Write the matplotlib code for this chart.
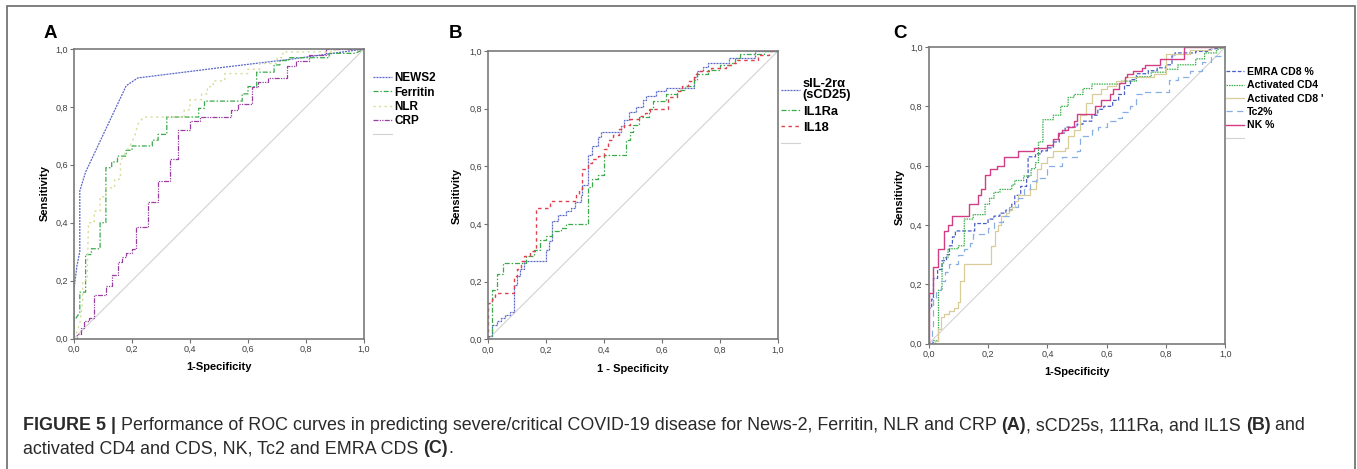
import matplotlib.pyplot as plt
from matplotlib.patches import Rectangle

plt.rcParams['font.family'] = ['Liberation Sans', 'DejaVu Sans']

W, H = 1357, 469

# ---- panel A: NEWS2, Ferritin, NLR, CRP ----
news2_x = [0.0, 0.0, 0.01, 0.02, 0.02, 0.04, 0.18, 0.22, 0.50, 0.75, 1.0]
news2_y = [0.0, 0.17, 0.25, 0.30, 0.51, 0.575, 0.873, 0.90, 0.935, 0.965, 1.0]

ferritin_x = [0.0, 0.0, 0.02, 0.02, 0.04, 0.04, 0.06, 0.06, 0.09, 0.09, 0.11, 0.11, 0.13, 0.13,
              0.15, 0.15, 0.18, 0.18, 0.20, 0.20, 0.27, 0.27, 0.29, 0.29, 0.32, 0.32, 0.43, 0.43,
              0.45, 0.45, 0.58, 0.58, 0.60, 0.60, 0.63, 0.63, 0.69, 0.69, 0.71, 0.71, 0.74, 0.74,
              0.88, 0.88, 0.97, 1.0]
ferritin_y = [0.0, 0.06, 0.09, 0.16, 0.16, 0.29, 0.29, 0.31, 0.31, 0.40, 0.40, 0.59, 0.59, 0.61,
              0.61, 0.63, 0.63, 0.65, 0.65, 0.665, 0.665, 0.685, 0.685, 0.705, 0.705, 0.765, 0.765, 0.795,
              0.795, 0.82, 0.82, 0.845, 0.845, 0.87, 0.87, 0.92, 0.92, 0.945, 0.945, 0.96, 0.96, 0.97,
              0.97, 0.985, 0.985, 1.0]

nlr_x = [0.0, 0.02, 0.03, 0.03, 0.045, 0.05, 0.07, 0.07, 0.09, 0.09, 0.11, 0.11, 0.14, 0.14,
         0.16, 0.16, 0.17, 0.19, 0.21, 0.22, 0.24, 0.38, 0.38, 0.40, 0.40, 0.44, 0.44, 0.46, 0.46,
         0.48, 0.48, 0.52, 0.52, 0.60, 0.60, 0.64, 0.64, 0.70, 0.70, 0.72, 0.72, 0.90, 0.90, 1.0]
nlr_y = [0.0, 0.05, 0.13, 0.20, 0.20, 0.40, 0.40, 0.44, 0.44, 0.49, 0.49, 0.52, 0.52, 0.55,
         0.55, 0.61, 0.63, 0.66, 0.70, 0.74, 0.765, 0.765, 0.79, 0.79, 0.825, 0.825, 0.845, 0.845, 0.87,
         0.87, 0.89, 0.89, 0.915, 0.915, 0.93, 0.93, 0.95, 0.95, 0.97, 0.97, 0.99, 0.99, 1.0, 1.0]

crp_x = [0.0, 0.01, 0.01, 0.025, 0.025, 0.035, 0.035, 0.05, 0.05, 0.07, 0.07, 0.11, 0.11, 0.13,
         0.13, 0.15, 0.15, 0.165, 0.165, 0.18, 0.18, 0.20, 0.20, 0.215, 0.215, 0.255, 0.255, 0.29,
         0.29, 0.33, 0.33, 0.36, 0.36, 0.40, 0.40, 0.435, 0.435, 0.54, 0.54, 0.565, 0.565, 0.615,
         0.615, 0.635, 0.635, 0.67, 0.67, 0.735, 0.735, 0.765, 0.765, 0.81, 0.81, 0.87, 0.87, 1.0]
crp_y = [0.0, 0.0, 0.015, 0.015, 0.035, 0.035, 0.06, 0.06, 0.07, 0.07, 0.15, 0.15, 0.18, 0.18,
         0.22, 0.22, 0.265, 0.265, 0.28, 0.28, 0.295, 0.295, 0.31, 0.31, 0.385, 0.385, 0.47, 0.47,
         0.545, 0.545, 0.62, 0.62, 0.72, 0.72, 0.75, 0.75, 0.765, 0.765, 0.79, 0.79, 0.81, 0.81,
         0.87, 0.87, 0.885, 0.885, 0.90, 0.90, 0.94, 0.94, 0.96, 0.96, 0.98, 0.98, 1.0, 1.0]

# ---- panel B: sIL-2ra, IL1Ra, IL18 ----
il2_x = [0.0, 0.0, 0.015, 0.015, 0.03, 0.03, 0.045, 0.045, 0.06, 0.06, 0.075, 0.075, 0.09, 0.09,
         0.10, 0.10, 0.11, 0.11, 0.125, 0.125, 0.20, 0.20, 0.21, 0.21, 0.22, 0.22, 0.24, 0.24,
         0.27, 0.27, 0.285, 0.285, 0.30, 0.30, 0.32, 0.32, 0.325, 0.325, 0.345, 0.345, 0.36, 0.36,
         0.38, 0.38, 0.39, 0.39, 0.46, 0.46, 0.47, 0.47, 0.485, 0.485, 0.51, 0.51, 0.535, 0.535,
         0.545, 0.545, 0.58, 0.58, 0.615, 0.615, 0.71, 0.71, 0.72, 0.72, 0.74, 0.74, 0.76, 0.76,
         0.83, 0.83, 0.92, 0.92, 1.0]
il2_y = [0.0, 0.01, 0.01, 0.05, 0.05, 0.065, 0.065, 0.075, 0.075, 0.085, 0.085, 0.095, 0.095, 0.19,
         0.19, 0.22, 0.22, 0.245, 0.245, 0.27, 0.27, 0.31, 0.31, 0.34, 0.34, 0.41, 0.41, 0.43,
         0.43, 0.445, 0.445, 0.455, 0.455, 0.475, 0.475, 0.50, 0.50, 0.535, 0.535, 0.64, 0.64, 0.67,
         0.67, 0.70, 0.70, 0.72, 0.72, 0.74, 0.74, 0.76, 0.76, 0.79, 0.79, 0.805, 0.805, 0.83,
         0.83, 0.845, 0.845, 0.86, 0.86, 0.87, 0.87, 0.91, 0.91, 0.93, 0.93, 0.945, 0.945, 0.96,
         0.96, 0.975, 0.975, 1.0, 1.0]

il1ra_x = [0.0, 0.015, 0.015, 0.03, 0.03, 0.05, 0.05, 0.13, 0.13, 0.16, 0.16, 0.18, 0.18, 0.20,
           0.20, 0.22, 0.22, 0.25, 0.25, 0.27, 0.27, 0.345, 0.345, 0.36, 0.36, 0.38, 0.38, 0.40,
           0.40, 0.475, 0.475, 0.49, 0.49, 0.50, 0.50, 0.52, 0.52, 0.555, 0.555, 0.57, 0.57, 0.615,
           0.615, 0.65, 0.65, 0.68, 0.68, 0.71, 0.71, 0.72, 0.72, 0.76, 0.76, 0.80, 0.80, 0.84,
           0.84, 0.85, 0.85, 0.87, 0.87, 0.95, 0.95, 1.0]
il1ra_y = [0.0, 0.0, 0.17, 0.17, 0.225, 0.225, 0.265, 0.265, 0.29, 0.29, 0.31, 0.31, 0.345, 0.345,
           0.36, 0.36, 0.375, 0.375, 0.385, 0.385, 0.40, 0.40, 0.53, 0.53, 0.555, 0.555, 0.57, 0.57,
           0.64, 0.64, 0.69, 0.69, 0.72, 0.72, 0.745, 0.745, 0.77, 0.77, 0.80, 0.80, 0.825, 0.825,
           0.85, 0.85, 0.865, 0.865, 0.88, 0.88, 0.90, 0.90, 0.92, 0.92, 0.935, 0.935, 0.95, 0.95,
           0.96, 0.96, 0.975, 0.975, 0.99, 0.99, 1.0, 1.0]

il18_x = [0.0, 0.0, 0.015, 0.015, 0.025, 0.025, 0.09, 0.09, 0.10, 0.10, 0.115, 0.115, 0.125, 0.125,
          0.145, 0.145, 0.165, 0.165, 0.215, 0.215, 0.305, 0.305, 0.315, 0.315, 0.325, 0.325,
          0.345, 0.345, 0.36, 0.36, 0.38, 0.38, 0.40, 0.40, 0.415, 0.415, 0.43, 0.43, 0.45, 0.45,
          0.47, 0.47, 0.49, 0.49, 0.52, 0.52, 0.54, 0.54, 0.56, 0.56, 0.62, 0.62, 0.65, 0.65,
          0.67, 0.67, 0.69, 0.69, 0.71, 0.71, 0.72, 0.72, 0.77, 0.77, 0.82, 0.82, 0.84, 0.84,
          0.86, 0.86, 0.93, 0.93, 0.97, 0.97, 1.0]
il18_y = [0.0, 0.125, 0.125, 0.14, 0.14, 0.16, 0.16, 0.22, 0.22, 0.245, 0.245, 0.27, 0.27, 0.29,
          0.29, 0.305, 0.305, 0.455, 0.455, 0.48, 0.48, 0.50, 0.50, 0.52, 0.52, 0.59,
          0.59, 0.61, 0.61, 0.625, 0.625, 0.635, 0.635, 0.66, 0.66, 0.69, 0.69, 0.71, 0.71, 0.73,
          0.73, 0.745, 0.745, 0.765, 0.765, 0.775, 0.775, 0.785, 0.785, 0.80, 0.80, 0.84, 0.84, 0.86,
          0.86, 0.88, 0.88, 0.895, 0.895, 0.92, 0.92, 0.93, 0.93, 0.94, 0.94, 0.95, 0.95, 0.96,
          0.96, 0.97, 0.97, 0.985, 0.985, 1.0, 1.0]

# ---- panel C: lymphocyte subsets ----
emra_x = [0.0, 0.0, 0.01, 0.01, 0.016, 0.016, 0.03, 0.03, 0.045, 0.045, 0.06, 0.06, 0.07, 0.07,
          0.08, 0.08, 0.09, 0.09, 0.155, 0.155, 0.20, 0.20, 0.22, 0.22, 0.24, 0.24, 0.26, 0.26,
          0.28, 0.28, 0.29, 0.29, 0.31, 0.31, 0.33, 0.33, 0.335, 0.335, 0.36, 0.36, 0.38, 0.38,
          0.40, 0.40, 0.42, 0.42, 0.44, 0.44, 0.46, 0.46, 0.50, 0.50, 0.52, 0.52, 0.55, 0.55,
          0.57, 0.57, 0.59, 0.59, 0.62, 0.62, 0.64, 0.64, 0.66, 0.66, 0.68, 0.68, 0.70, 0.70,
          0.74, 0.74, 0.77, 0.77, 0.80, 0.80, 0.82, 0.82, 0.83, 0.83, 0.90, 0.90, 0.94, 0.94, 1.0]
emra_y = [0.0, 0.12, 0.12, 0.15, 0.15, 0.22, 0.22, 0.25, 0.25, 0.28, 0.28, 0.30, 0.30, 0.33,
          0.33, 0.36, 0.36, 0.38, 0.38, 0.405, 0.405, 0.42, 0.42, 0.43, 0.43, 0.44, 0.44, 0.45,
          0.45, 0.47, 0.47, 0.50, 0.50, 0.53, 0.53, 0.56, 0.56, 0.63, 0.63, 0.64, 0.64, 0.65,
          0.65, 0.66, 0.66, 0.68, 0.68, 0.71, 0.71, 0.73, 0.73, 0.74, 0.74, 0.75, 0.75, 0.77,
          0.77, 0.79, 0.79, 0.80, 0.80, 0.82, 0.82, 0.84, 0.84, 0.87, 0.87, 0.89, 0.89, 0.91,
          0.91, 0.92, 0.92, 0.93, 0.93, 0.94, 0.94, 0.97, 0.97, 0.98, 0.98, 0.985, 0.985, 0.99, 1.0]

cd4_x = [0.0, 0.016, 0.016, 0.033, 0.033, 0.045, 0.045, 0.05, 0.05, 0.065, 0.065, 0.10, 0.10, 0.12,
         0.12, 0.15, 0.15, 0.19, 0.19, 0.205, 0.205, 0.22, 0.22, 0.24, 0.24, 0.28, 0.28, 0.29,
         0.29, 0.32, 0.32, 0.345, 0.345, 0.36, 0.36, 0.37, 0.37, 0.385, 0.385, 0.42, 0.42, 0.445,
         0.445, 0.47, 0.47, 0.49, 0.49, 0.52, 0.52, 0.55, 0.55, 0.65, 0.65, 0.70, 0.70, 0.75,
         0.75, 0.80, 0.80, 0.84, 0.84, 0.90, 0.90, 0.93, 0.93, 0.97, 0.97, 1.0]
cd4_y = [0.0, 0.0, 0.01, 0.01, 0.18, 0.18, 0.27, 0.27, 0.29, 0.29, 0.32, 0.32, 0.33, 0.33,
         0.42, 0.42, 0.435, 0.435, 0.47, 0.47, 0.49, 0.49, 0.51, 0.51, 0.52, 0.52, 0.535, 0.535,
         0.55, 0.55, 0.565, 0.565, 0.59, 0.59, 0.61, 0.61, 0.68, 0.68, 0.755, 0.755, 0.77, 0.77,
         0.80, 0.80, 0.83, 0.83, 0.84, 0.84, 0.86, 0.86, 0.875, 0.875, 0.885, 0.885, 0.90, 0.90,
         0.915, 0.915, 0.925, 0.925, 0.94, 0.94, 0.96, 0.96, 0.98, 0.98, 0.99, 1.0]

cd8_x = [0.0, 0.02, 0.02, 0.03, 0.03, 0.04, 0.04, 0.05, 0.05, 0.07, 0.07, 0.085, 0.085, 0.10,
         0.10, 0.105, 0.105, 0.12, 0.12, 0.21, 0.21, 0.225, 0.225, 0.235, 0.235, 0.245, 0.245, 0.26,
         0.26, 0.27, 0.27, 0.28, 0.28, 0.29, 0.29, 0.30, 0.30, 0.34, 0.34, 0.36, 0.36, 0.365,
         0.365, 0.38, 0.38, 0.40, 0.40, 0.42, 0.42, 0.46, 0.46, 0.47, 0.47, 0.49, 0.49, 0.51,
         0.51, 0.53, 0.53, 0.55, 0.55, 0.58, 0.58, 0.60, 0.60, 0.63, 0.63, 0.66, 0.66, 0.76,
         0.76, 0.80, 0.80, 0.88, 0.88, 0.95, 0.95, 1.0]
cd8_y = [0.0, 0.0, 0.01, 0.01, 0.05, 0.05, 0.09, 0.09, 0.10, 0.10, 0.11, 0.11, 0.12, 0.12,
         0.14, 0.14, 0.21, 0.21, 0.27, 0.27, 0.33, 0.33, 0.38, 0.38, 0.40, 0.40, 0.43, 0.43,
         0.44, 0.44, 0.45, 0.45, 0.46, 0.46, 0.48, 0.48, 0.50, 0.50, 0.52, 0.52, 0.545, 0.545,
         0.59, 0.59, 0.61, 0.61, 0.63, 0.63, 0.65, 0.65, 0.66, 0.66, 0.70, 0.70, 0.72, 0.72,
         0.77, 0.77, 0.81, 0.81, 0.84, 0.84, 0.86, 0.86, 0.87, 0.87, 0.885, 0.885, 0.90, 0.90,
         0.91, 0.91, 0.975, 0.975, 0.99, 0.99, 1.0, 1.0]

tc2_x = [0.0, 0.01, 0.01, 0.015, 0.015, 0.025, 0.025, 0.04, 0.04, 0.055, 0.055, 0.07, 0.07, 0.10,
         0.10, 0.12, 0.12, 0.14, 0.14, 0.15, 0.15, 0.20, 0.20, 0.22, 0.22, 0.25, 0.25, 0.27,
         0.27, 0.30, 0.30, 0.32, 0.32, 0.34, 0.34, 0.36, 0.36, 0.40, 0.40, 0.45, 0.45, 0.50,
         0.50, 0.51, 0.51, 0.55, 0.55, 0.57, 0.57, 0.60, 0.60, 0.63, 0.63, 0.65, 0.65, 0.68,
         0.68, 0.70, 0.70, 0.72, 0.72, 0.81, 0.81, 0.84, 0.84, 0.88, 0.88, 0.92, 0.92, 0.95,
         0.95, 1.0, 1.0]
tc2_y = [0.0, 0.0, 0.05, 0.05, 0.15, 0.15, 0.18, 0.18, 0.21, 0.21, 0.24, 0.24, 0.27, 0.27,
         0.30, 0.30, 0.32, 0.32, 0.34, 0.34, 0.37, 0.37, 0.39, 0.39, 0.41, 0.41, 0.43, 0.43,
         0.46, 0.46, 0.49, 0.49, 0.52, 0.52, 0.55, 0.55, 0.56, 0.56, 0.60, 0.60, 0.63, 0.63,
         0.65, 0.65, 0.70, 0.70, 0.72, 0.72, 0.73, 0.73, 0.75, 0.75, 0.76, 0.76, 0.78, 0.78,
         0.80, 0.80, 0.84, 0.84, 0.85, 0.85, 0.89, 0.89, 0.90, 0.90, 0.92, 0.92, 0.95, 0.95,
         0.97, 0.97, 1.0]

nk_x = [0.0, 0.0, 0.016, 0.016, 0.03, 0.03, 0.05, 0.05, 0.065, 0.065, 0.08, 0.08, 0.135, 0.135,
        0.165, 0.165, 0.175, 0.175, 0.19, 0.19, 0.205, 0.205, 0.23, 0.23, 0.255, 0.255, 0.30, 0.30,
        0.355, 0.355, 0.40, 0.40, 0.42, 0.42, 0.435, 0.435, 0.45, 0.45, 0.47, 0.47, 0.49, 0.49,
        0.50, 0.50, 0.56, 0.56, 0.58, 0.58, 0.61, 0.61, 0.62, 0.62, 0.64, 0.64, 0.66, 0.66,
        0.67, 0.67, 0.69, 0.69, 0.72, 0.72, 0.73, 0.73, 0.78, 0.78, 0.86, 0.86, 1.0]
nk_y = [0.0, 0.17, 0.17, 0.26, 0.26, 0.32, 0.32, 0.38, 0.38, 0.40, 0.40, 0.43, 0.43, 0.47,
        0.47, 0.50, 0.50, 0.52, 0.52, 0.57, 0.57, 0.59, 0.59, 0.60, 0.60, 0.63, 0.63, 0.65,
        0.65, 0.66, 0.66, 0.67, 0.67, 0.69, 0.69, 0.71, 0.71, 0.72, 0.72, 0.73, 0.73, 0.75,
        0.75, 0.775, 0.775, 0.80, 0.80, 0.82, 0.82, 0.84, 0.84, 0.86, 0.86, 0.88, 0.88, 0.90,
        0.90, 0.91, 0.91, 0.92, 0.92, 0.93, 0.93, 0.94, 0.94, 0.96, 0.96, 1.0, 1.0]

ticks = [0.0, 0.2, 0.4, 0.6, 0.8, 1.0]
tick_labels = ['0,0', '0,2', '0,4', '0,6', '0,8', '1,0']

fig = plt.figure(figsize=(W / 100, H / 100), dpi=100)


def px(x, y):
    # pixel position (from top-left) to figure fraction
    return x / W, 1 - y / H


def roc_axes(left, top, right, bottom):
    ax = fig.add_axes([left / W, 1 - bottom / H, (right - left) / W, (bottom - top) / H])
    ax.set_xlim(0, 1)
    ax.set_ylim(0, 1)
    ax.set_xticks(ticks)
    ax.set_yticks(ticks)
    ax.set_xticklabels(tick_labels)
    ax.set_yticklabels(tick_labels)
    ax.tick_params(length=3, width=0.8, color='#707070', labelsize=6.5,
                   labelcolor='#404040', pad=1.5)
    for s in ax.spines.values():
        s.set_color('#7a7a7a')
        s.set_linewidth(1.2)
    ax.plot([0, 1], [0, 1], color='#d2d2d2', lw=0.8, label=' ')
    return ax


def roc_legend(ax, anchor, size, hlen, pad, spacing):
    # diagonal reference goes last, as an unlabelled entry
    h, l = ax.get_legend_handles_labels()
    return ax.legend(h[1:] + h[:1], l[1:] + l[:1], loc='upper left', bbox_to_anchor=anchor,
                     frameon=False, borderpad=0, borderaxespad=0, handlelength=hlen,
                     handletextpad=pad, labelspacing=spacing,
                     prop={'weight': 'bold', 'size': size})


# A
axA = roc_axes(74, 49, 364, 338.5)
axA.plot(news2_x, news2_y, color='#5a68c8', lw=0.9, ls=(0, (1.6, 0.8)), label='NEWS2')
axA.plot(ferritin_x, ferritin_y, color='#3aaa4a', lw=0.9, ls=(0, (4, 1.5, 1.2, 1.5)), label='Ferritin')
axA.plot(nlr_x, nlr_y, color='#d6dc98', lw=1.0, ls=(0, (1.5, 2.5)), label='NLR')
axA.plot(crp_x, crp_y, color='#9a3ea2', lw=0.9, ls=(0, (4, 1, 1, 1, 1, 1)), label='CRP')
roc_legend(axA, (1.031, 0.92), 8.5, 1.6, 0.2, 0.2)

# B
axB = roc_axes(488, 51, 778, 339.3)
axB.plot(il2_x, il2_y, color='#5a68c8', lw=0.9, ls=(0, (1.6, 0.8)), label='sIL-2rα\n(sCD25)')
axB.plot(il1ra_x, il1ra_y, color='#3aaa4a', lw=0.9, ls=(0, (4, 1.5, 1.2, 1.5)), label='IL1Ra')
axB.plot(il18_x, il18_y, color='#e0404e', lw=1.0, ls=(0, (2.5, 2.5)), label='IL18')
legB = roc_legend(axB, (1.01, 0.907), 9.3, 1.47, 0.23, 0.33)
for t in legB.get_texts():
    t.set_linespacing(0.95)

# C
axC = roc_axes(928.7, 47, 1225.4, 343.7)
axC.plot(emra_x, emra_y, color='#4a5ec8', lw=0.9, ls=(0, (3, 1.5)), label='EMRA CD8 %')
axC.plot(cd4_x, cd4_y, color='#3cb04c', lw=0.9, ls=(0, (1.2, 0.8)), label='Activated CD4')
axC.plot(cd8_x, cd8_y, color='#d8cc98', lw=0.9, label="Activated CD8 '")
axC.plot(tc2_x, tc2_y, color='#88aee6', lw=0.9, ls=(0, (5, 3.5)), label='Tc2%')
axC.plot(nk_x, nk_y, color='#d23e86', lw=1.0, label='NK %')
roc_legend(axC, (1.002, 0.933), 7.6, 1.7, 0.28, 0.32)

# panel letters and axis titles
for letter, x in [('A', 50), ('B', 456), ('C', 900)]:
    fig.text(*px(x, 34), letter, fontsize=13.5, weight='bold', ha='center', va='center')
for x, y in [(45, 193), (457, 196), (900, 197)]:
    fig.text(*px(x, y), 'Sensitivity', fontsize=8, weight='bold', rotation=90,
             ha='center', va='center')
for x, y, s in [(219, 367, '1-Specificity'), (633, 369, '1 - Specificity'),
                (1077, 372, '1-Specificity')]:
    fig.text(*px(x, y), s, fontsize=8, weight='bold', ha='center', va='center')

# outer frame
fig.add_artist(Rectangle(px(7, 490), (1355 - 7) / W, (490 - 6) / H, transform=fig.transFigure,
                         fill=False, edgecolor='#6a6a6a', lw=1.2))

# caption, built piece by piece so the panel tags can be bold
cap = fig.add_axes([0, 0, 1, 1])
cap.axis('off')
cap.set_zorder(-1)
line1 = [('FIGURE 5 | ', 'bold'),
         ('Performance of ROC curves in predicting severe/critical COVID-19 disease for News-2, '
          'Ferritin, NLR and CRP ', 'normal'),
         ('(A)', 'bold'), (', sCD25s, 111Ra, and IL1S ', 'normal'), ('(B)', 'bold'),
         (' and', 'normal')]
line2 = [('activated CD4 and CDS, NK, Tc2 and EMRA CDS ', 'normal'), ('(C)', 'bold'),
         ('.', 'normal')]
cap_size = 12.9
for pieces, base in [(line1, 430), (line2, 453)]:
    prev = cap.text(23 / W, 1 - base / H, pieces[0][0], weight=pieces[0][1], fontsize=cap_size,
                    color='#2a2a2a', ha='left', va='baseline', transform=fig.transFigure)
    for s, w in pieces[1:]:
        prev = cap.annotate(s, xy=(1, 0), xycoords=prev, weight=w, fontsize=cap_size,
                            color='#2a2a2a', ha='left', va='bottom')

fig.savefig('out.png', dpi=100)
